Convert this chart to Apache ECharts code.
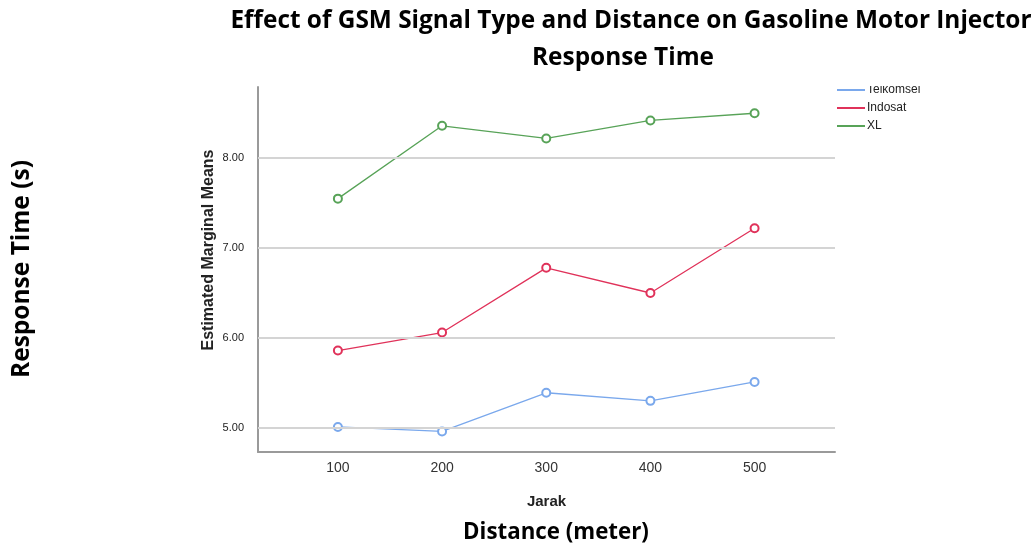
<!DOCTYPE html>
<html>
<head>
<meta charset="utf-8">
<script src="https://cdn.jsdelivr.net/npm/echarts@6/dist/echarts.min.js"></script>
<style>html,body{margin:0;padding:0;background:#fff;}#c{width:1032px;height:549px;}</style>
</head>
<body>
<div id="c"></div>
<script>
const distances = [100, 200, 300, 400, 500];
const telkomsel = [5.01, 4.96, 5.39, 5.30, 5.51];
const indosat = [5.86, 6.06, 6.78, 6.50, 7.22];
const xl = [7.55, 8.36, 8.22, 8.42, 8.50];
const yTicks = [5, 6, 7, 8];
const seriesNames = ['Telkomsel', 'Indosat', 'XL'];
const colors = ['#7aa8ec', '#e0325a', '#58a358'];

const chart = echarts.init(document.getElementById('c'), null, {renderer: 'canvas'});
const toPairs = arr => distances.map((d, i) => [d, arr[i]]);
const mk = (name, arr, color) => ({
  name, type: 'line', data: toPairs(arr),
  symbol: 'emptyCircle', symbolSize: 8,
  lineStyle: {color, width: 1.3},
  itemStyle: {color, borderWidth: 1.2},
  emphasis: {disabled: true}
});
chart.setOption({
  animation: false,
  color: colors,
  grid: {left: 258, top: 87, right: 197, bottom: 97, containLabel: false},
  xAxis: {
    type: 'value', min: 23.3, max: 577.2,
    axisLine: {show: true, lineStyle: {color: '#9a9a9a', width: 2}},
    axisTick: {show: false},
    splitLine: {show: false},
    axisLabel: {customValues: distances, color: '#333', fontSize: 14, fontFamily: 'Liberation Sans', margin: 9},
    name: 'Jarak', nameLocation: 'middle', nameGap: 42,
    nameTextStyle: {fontFamily: 'Liberation Sans', fontWeight: 'bold', fontSize: 15, color: '#222'}
  },
  yAxis: {
    type: 'value', min: 4.731, max: 8.792,
    axisLine: {show: true, lineStyle: {color: '#9a9a9a', width: 2}},
    axisTick: {show: false},
    splitLine: {show: false},
    axisLabel: {customValues: yTicks, formatter: v => v.toFixed(2), color: '#222', fontSize: 11, fontFamily: 'Liberation Sans', margin: 14}
  },
  legend: {
    data: seriesNames, orient: 'vertical', left: 832, top: 79, itemGap: 6,
    itemWidth: 28, itemHeight: 12, icon: 'path://M0,5L28,5L28,7L0,7Z',
    textStyle: {fontFamily: 'Liberation Sans', fontSize: 12, color: '#222', padding: [0,0,0,-3]}
  },
  graphic: [
    {type: 'rect', shape: {x: 826, y: 70, width: 150, height: 16}, style: {fill: '#fff'}, z: 100, zlevel: 1},
    {type: 'text', x: 631, y: 21, style: {text: 'Effect of GSM Signal Type and Distance on Gasoline Motor Injector', font: 'bold 24.4px "Open Sans"', fill: '#000', textAlign: 'center', textVerticalAlign: 'middle'}},
    {type: 'text', x: 623, y: 58, style: {text: 'Response Time', font: 'bold 24.4px "Open Sans"', fill: '#000', textAlign: 'center', textVerticalAlign: 'middle'}},
    {type: 'text', x: 22, y: 269, rotation: Math.PI / 2, style: {text: 'Response Time (s)', font: 'bold 24.5px "Open Sans"', fill: '#000', textAlign: 'center', textVerticalAlign: 'middle'}},
    {type: 'text', x: 556, y: 533, style: {text: 'Distance (meter)', font: 'bold 22.3px "Open Sans"', fill: '#000', textAlign: 'center', textVerticalAlign: 'middle'}},
    {type: 'text', x: 209, y: 250, rotation: Math.PI / 2, style: {text: 'Estimated Marginal Means', font: 'bold 16px "Liberation Sans"', fill: '#222', textAlign: 'center', textVerticalAlign: 'middle'}}
  ],
  series: [
    {
      type: 'line', data: [], silent: true,
      markLine: {
        silent: true, symbol: 'none', animation: false,
        label: {show: false},
        lineStyle: {color: '#d4d4d4', width: 2, type: 'solid'},
        data: yTicks.map(v => ({yAxis: v}))
      }
    },
    mk(seriesNames[0], telkomsel, colors[0]),
    mk(seriesNames[1], indosat, colors[1]),
    mk(seriesNames[2], xl, colors[2])
  ]
});
</script>
</body>
</html>
